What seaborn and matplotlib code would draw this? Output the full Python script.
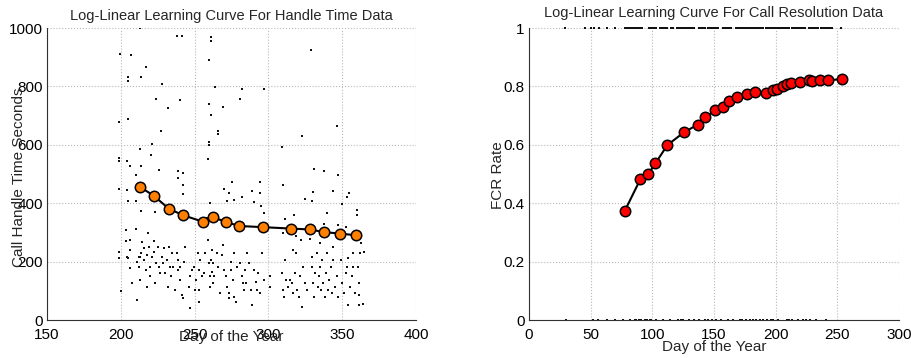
import matplotlib
matplotlib.use("Agg")
import matplotlib.pyplot as plt
import seaborn as sns
import pandas as pd
from matplotlib.ticker import FuncFormatter

# ---------------- data: handle time ----------------
handle_curve_day = [213.2, 222.2, 232.6, 242.1, 256.0, 262.3, 271.3, 279.9, 296.3, 315.6, 328.4, 337.5, 348.6, 359.6]
handle_curve_val = [455, 426, 381, 359, 336, 352, 336, 322, 318, 313, 310, 301, 296, 290]

handle_raw_day = [
    213, 238, 241.4, 261, 261, 199.2, 207, 260, 329, 216.8, 205, 205, 214, 263.5, 228, 282.4, 297,
    224, 240, 281, 232, 269, 199, 205, 227, 266, 266, 261, 259.5, 309, 323, 346.5, 199, 199, 221,
    213, 259.5, 259.5, 258.8, 204, 206, 220.4, 214, 226, 210, 239, 242, 331, 337.7, 347, 199, 204,
    242, 239, 242, 270, 275.2, 273, 272, 289, 294.4, 294.4, 290, 295, 310, 325, 330, 344, 353, 354.8,
    350, 360.3, 360.3, 329.5, 205, 210, 213.4, 223, 260.6, 258.4, 276.4, 282, 296.7, 311, 317.6,
    339.5, 347, 338, 352.6,
    199, 199, 200, 203.7, 203.7, 204, 205, 206, 206, 206, 207.5, 210.5, 211, 211, 212, 213, 212, 213,
    214.5, 214, 215.4, 216, 217, 217.7, 217.7, 218.4, 219, 219.5, 220, 221, 222.2, 222.7, 223.5, 224,
    225, 226, 226.7, 228, 228.5, 229.4, 230, 231, 232, 232.8, 233.5, 234.2, 235, 235.7, 236.5, 238,
    238.7, 239, 240, 240.3, 241.6, 242.3, 242.5, 243.2, 246, 247, 246.6, 248, 249.3, 250.4, 251,
    252.2, 252.7, 253.3, 253, 253.8, 255, 256.5, 257.2, 258.8, 259.7, 260.1, 260.6, 261, 261.5, 262,
    262.3, 262.8, 263, 265, 266, 267, 268.5, 269, 269.8, 271, 271.8, 273, 273.6, 274.5, 275, 276,
    276.4, 277, 278, 279, 281, 282, 282.7, 283.4, 284, 284.7, 285.4, 287, 288, 289, 290, 291.3, 292,
    293, 294.4, 295.5, 297, 301, 301,
    309, 310, 310.4, 311.5, 312, 313, 314.7, 315.8, 316.5, 317, 317.9, 318.8, 319.7, 320.6, 321.5,
    322.6, 323.7, 324.8, 326, 329.4, 329.8, 330.5, 331, 331.9, 332.8, 333.4, 334, 335, 335.7, 336.4,
    337.3, 338.2, 339, 339.5, 340.4, 341.3, 342.2, 343, 344, 345.2, 346.3, 347.4, 349, 350, 351.3,
    352.6, 353.5, 354.2, 355.3, 356.5, 357.6, 359, 361, 361.2, 361.4, 362, 363, 361.6, 364.4, 365,
    350.3, 357.6, 354.2, 344, 335, 328, 339.5, 322, 319, 310, 336,
]
handle_raw_val = [
    1000, 971, 971, 968, 957, 911, 906, 891, 923, 867, 831, 817, 832, 797, 807, 792, 792,
    758, 753, 758, 727, 731, 677, 688, 646, 648, 637, 702, 739, 591, 629, 663, 554, 543, 602,
    586, 611, 600, 552, 545, 526, 566, 529, 514, 497, 511, 503, 517, 509, 497, 448, 446,
    430, 486, 463, 448, 474, 434, 408, 442, 472, 434, 403, 389, 461, 415, 440, 442, 421, 435,
    398, 377, 360, 406, 407, 407, 375, 371, 402, 351, 411, 421, 366, 347, 360,
    366, 326, 328, 320,
    234, 211, 99, 309, 269, 217, 211, 240, 177, 273, 126, 311, 198, 69, 217, 217, 183, 137,
    266, 229, 206, 246, 171, 114, 223, 297, 251, 183, 149, 217, 272, 234, 126, 194,
    251, 183, 160, 217, 194, 246, 160, 206, 114, 251, 183, 149, 229, 183, 103, 229,
    171, 206, 137, 183, 86, 74, 200, 251, 114, 40, 149, 171, 183, 103, 137,
    229, 171, 63, 103, 206, 149, 160, 229, 274, 194, 149, 114, 206, 166, 240,
    128, 194, 149, 229, 183, 91, 223, 257, 171, 149, 114, 91, 74, 171, 200, 137,
    80, 229, 63, 183, 194, 149, 126, 103, 171, 126, 229, 194, 103, 51, 171, 131, 103,
    160, 91, 229, 137, 114, 149,
    160, 103, 80, 206, 137, 114, 137, 126, 91, 240, 160, 229, 103, 80, 149,
    46, 183, 126, 103, 217, 183, 126, 80, 160, 229, 114, 149, 183, 103, 206,
    126, 80, 160, 229, 103, 137, 183, 91, 206, 114, 149, 80, 206, 126, 91,
    160, 183, 51, 114, 149, 183, 91, 183, 126, 86, 229, 263, 51, 55, 234,
    297, 229, 211, 251, 263, 277, 291, 274, 286, 297, 311,
]

# ---------------- data: call resolution ----------------
fcr_curve_day = [77.8, 90.3, 96.5, 102.4, 112.2, 125.7, 136.8, 143.0, 151.1, 157.3, 162.4, 168.9, 176.8,
                 182.9, 191.9, 197.8, 201.1, 206.2, 209.2, 212.7, 219.5, 226.8, 229.2, 235.9, 242.4, 253.8]
fcr_curve_val = [0.375, 0.482, 0.499, 0.536, 0.599, 0.643, 0.669, 0.695, 0.718, 0.729, 0.750, 0.765, 0.774,
                 0.782, 0.778, 0.786, 0.791, 0.801, 0.809, 0.811, 0.816, 0.821, 0.817, 0.821, 0.821, 0.825]

fcr_resolved_day = [
    29, 45, 50, 53, 57, 63, 70,
    78, 79, 80, 81, 82, 83, 84, 86, 87, 88, 89, 90, 91, 92, 97, 98, 99, 100, 101, 102, 103,
    106, 107, 108, 109, 110, 111, 112, 115, 116, 117, 120, 121, 122, 123, 124, 125, 126, 127,
    129, 130, 131, 132, 133, 134, 138, 139, 140, 141, 142, 143, 145, 146, 147, 148, 149, 150,
    151, 152, 153, 157, 158, 159, 160, 161, 162, 163, 164, 168, 169, 170, 171, 172, 173, 174,
    175, 176, 177, 178, 180, 181, 182, 183, 184, 185, 186, 187, 188, 189, 190, 192, 193, 194,
    195, 196, 197, 198, 199, 200, 201, 202, 203, 204, 205, 206, 207, 208, 209, 210, 211, 213,
    214, 215, 216, 217, 218, 219, 220, 221, 222, 223, 224, 227, 228, 229, 230, 231, 232, 233,
    234, 237, 238, 239, 240, 241, 242, 243, 244, 245, 246, 253,
]
fcr_unresolved_day = [30, 52, 56, 63, 70, 76, 82, 86, 87, 89, 91, 94, 96, 98, 99, 103, 109, 114, 121, 123,
                      125, 130, 134, 138, 143, 145, 148, 152, 156, 161, 165, 171, 173, 176, 179, 182, 184,
                      187, 190, 193, 196, 198, 202, 209, 211, 213, 218, 222, 225, 228, 233, 241]

# ---------------- styling ----------------
sns.set_theme(style="white")
plt.rcParams["font.family"] = ["Liberation Sans", "DejaVu Sans"]

fig = plt.figure(figsize=(9.12, 3.58), dpi=100)
ax1 = fig.add_axes([47 / 912, 38 / 358, 369 / 912, 292 / 358])
ax2 = fig.add_axes([529 / 912, 38 / 358, 370 / 912, 292 / 358])

grid_kw = dict(color="#b8b8b8", linestyle=":", linewidth=0.8)


def style_axes(ax):
    for s in ["top", "right"]:
        ax.spines[s].set_visible(False)
    for s in ["left", "bottom"]:
        ax.spines[s].set_color("#303030")
        ax.spines[s].set_linewidth(0.8)
    ax.grid(True, **grid_kw)
    ax.set_axisbelow(True)
    ax.tick_params(direction="in", length=3, width=0.6, labelsize=11, colors="#303030",
                   labelcolor="black")
    ax.tick_params(axis="x", pad=6)
    ax.tick_params(axis="y", pad=3)


dot_kw = dict(color="#111111", s=1.6, linewidth=0, marker="s")

# ---- left panel ----
df_hraw = pd.DataFrame({"day": handle_raw_day, "val": handle_raw_val})
df_hcur = pd.DataFrame({"day": handle_curve_day, "val": handle_curve_val})
sns.scatterplot(data=df_hraw, x="day", y="val", ax=ax1, **dot_kw)
sns.lineplot(data=df_hcur, x="day", y="val", ax=ax1, sort=False, estimator=None, color="black",
             linewidth=1.5, marker="o", markersize=7.5, markerfacecolor="#ff8000",
             markeredgecolor="black", markeredgewidth=1.1)
ax1.set_xlim(150, 400)
ax1.set_ylim(0, 1000)
ax1.set_xticks([150, 200, 250, 300, 350, 400])
ax1.set_yticks([0, 200, 400, 600, 800, 1000])
style_axes(ax1)
ax1.set_title("Log-Linear Learning Curve For Handle Time Data", fontsize=10.5, pad=6)
ax1.set_xlabel("Day of the Year", fontsize=11, va="top")
ax1.set_ylabel("Call Handle Time Seconds", fontsize=11, va="center")
ax1.xaxis.set_label_coords(0.5, -0.035)
ax1.yaxis.set_label_coords(-0.076, 0.49)

# ---- right panel ----
df_res = pd.DataFrame({"day": fcr_resolved_day, "val": [1] * len(fcr_resolved_day)})
df_unres = pd.DataFrame({"day": fcr_unresolved_day, "val": [0] * len(fcr_unresolved_day)})
df_fcur = pd.DataFrame({"day": fcr_curve_day, "val": fcr_curve_val})
sns.scatterplot(data=df_res, x="day", y="val", ax=ax2, clip_on=False, **dot_kw)
sns.scatterplot(data=df_unres, x="day", y="val", ax=ax2, clip_on=False, **dot_kw)
sns.lineplot(data=df_fcur, x="day", y="val", ax=ax2, sort=False, estimator=None, color="black",
             linewidth=1.5, marker="o", markersize=7.5, markerfacecolor="#ff0000",
             markeredgecolor="black", markeredgewidth=1.1)
ax2.set_xlim(0, 300)
ax2.set_ylim(0, 1)
ax2.set_xticks([0, 50, 100, 150, 200, 250, 300])
ax2.set_yticks([0, 0.2, 0.4, 0.6, 0.8, 1.0])
ax2.yaxis.set_major_formatter(FuncFormatter(lambda v, p: f"{v:g}"))
style_axes(ax2)
ax2.set_title("Log-Linear Learning Curve For Call Resolution Data", fontsize=10.5, pad=8)
ax2.set_xlabel("Day of the Year", fontsize=11, va="top")
ax2.set_ylabel("FCR Rate", fontsize=11, va="center")
ax2.xaxis.set_label_coords(0.5, -0.068)
ax2.yaxis.set_label_coords(-0.085, 0.497)

fig.savefig("out.png", dpi=100)
